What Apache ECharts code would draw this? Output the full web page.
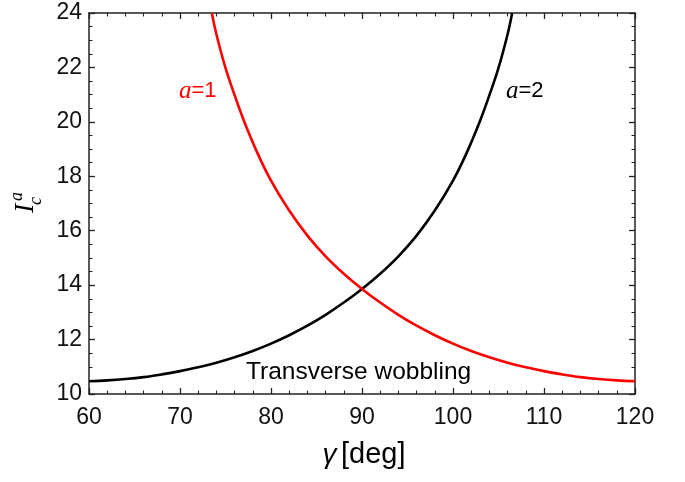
<!DOCTYPE html>
<html>
<head>
<meta charset="utf-8">
<script src="https://cdn.jsdelivr.net/npm/echarts@6/dist/echarts.min.js"></script>
<style>
  html, body { margin: 0; padding: 0; background: #fff; }
  #chart { width: 685px; height: 482px; }
</style>
</head>
<body>
<div id="chart"></div>
<script>
// gamma [deg] and critical moment of inertia
const gammaA2 = [60, 62, 64, 66, 68, 70, 72, 74, 76, 78, 80, 82, 84, 86, 88, 90, 92, 94, 96, 98, 100, 101.5, 103, 104, 105, 106, 106.5];
const inertiaA2 = [10.47, 10.50, 10.55, 10.62, 10.72, 10.84, 10.98, 11.15, 11.35, 11.58, 11.85, 12.16, 12.51, 12.91, 13.36, 13.86, 14.42, 15.06, 15.82, 16.74, 17.84, 18.86, 20.06, 20.98, 21.98, 23.22, 24.0];
const gammaA1 = [73.5, 74, 75, 76, 77, 78.5, 80, 82, 84, 86, 88, 90, 92, 94, 96, 98, 100, 102, 104, 106, 108, 110, 112, 114, 116, 118, 120];
const inertiaA1 = [24.0, 23.22, 21.98, 20.98, 20.06, 18.86, 17.84, 16.74, 15.82, 15.06, 14.42, 13.86, 13.36, 12.91, 12.51, 12.16, 11.85, 11.58, 11.35, 11.15, 10.98, 10.84, 10.72, 10.62, 10.55, 10.50, 10.47];
const xTicks = [60, 70, 80, 90, 100, 110, 120];
const yTicks = [10, 12, 14, 16, 18, 20, 22, 24];

const chart = echarts.init(document.getElementById('chart'));

const sans = 'Liberation Sans';
const serif = 'Liberation Serif';

const axisCommon = {
  axisLine: { show: true, onZero: false, lineStyle: { color: '#222', width: 1.5 } },
  axisTick: { show: true, inside: true, length: 6, lineStyle: { color: '#222', width: 1.3 } },
  splitLine: { show: false },
  minorSplitLine: { show: false }
};
const minorX = { show: true, splitNumber: 5, length: 3.5, lineStyle: { color: '#222', width: 1.1 } };
const minorY = { show: true, splitNumber: 4, length: 3.5, lineStyle: { color: '#222', width: 1.1 } };

function pairs(xs, ys) {
  return xs.map((x, i) => [x, ys[i]]);
}

const option = {
  animation: false,
  backgroundColor: '#fff',
  grid: { left: 89, right: 50, top: 13, bottom: 88 },
  xAxis: [
    Object.assign({
      type: 'value', min: xTicks[0], max: xTicks[xTicks.length - 1], interval: 10,
      position: 'bottom', minorTick: minorX,
      axisLabel: { fontFamily: sans, fontSize: 23, color: '#111', margin: 12 }
    }, axisCommon),
    Object.assign({
      type: 'value', min: xTicks[0], max: xTicks[xTicks.length - 1], interval: 10,
      position: 'top', minorTick: minorX,
      axisLabel: { show: false }
    }, axisCommon)
  ],
  yAxis: [
    Object.assign({
      type: 'value', min: yTicks[0], max: yTicks[yTicks.length - 1], interval: 2,
      position: 'left', minorTick: minorY,
      axisLabel: { fontFamily: sans, fontSize: 23, color: '#111', margin: 7 }
    }, axisCommon),
    Object.assign({
      type: 'value', min: yTicks[0], max: yTicks[yTicks.length - 1], interval: 2,
      position: 'right', minorTick: minorY,
      axisLabel: { show: false }
    }, axisCommon)
  ],
  series: [
    {
      name: 'a=2', type: 'line', smooth: 0.4, showSymbol: false,
      lineStyle: { color: '#000', width: 2.6 },
      data: pairs(gammaA2, inertiaA2)
    },
    {
      name: 'a=1', type: 'line', smooth: 0.4, showSymbol: false,
      lineStyle: { color: '#ff0000', width: 2.6 },
      data: pairs(gammaA1, inertiaA1)
    }
  ],
  graphic: [
    {
      type: 'text', x: 179, y: 91,
      style: {
        text: '{i|a}{n|=1}', verticalAlign: 'middle',
        rich: {
          i: { fontFamily: serif, fontStyle: 'italic', fontSize: 25, fill: '#ff0000' },
          n: { fontFamily: sans, fontSize: 22, fill: '#ff0000' }
        }
      }
    },
    {
      type: 'text', x: 506, y: 91,
      style: {
        text: '{i|a}{n|=2}', verticalAlign: 'middle',
        rich: {
          i: { fontFamily: serif, fontStyle: 'italic', fontSize: 25, fill: '#000' },
          n: { fontFamily: sans, fontSize: 22, fill: '#000' }
        }
      }
    },
    {
      type: 'text', x: 246, y: 372,
      style: { text: 'Transverse wobbling', fontFamily: sans, fontSize: 24.5, fill: '#000', verticalAlign: 'middle' }
    },
    {
      type: 'text', x: 364, y: 455,
      style: {
        text: '{i|γ}{s| }{n|[deg]}', align: 'center', verticalAlign: 'middle',
        rich: {
          i: { fontFamily: sans, fontStyle: 'italic', fontSize: 28, fill: '#000' },
          s: { fontFamily: sans, fontSize: 16 },
          n: { fontFamily: sans, fontSize: 29, fill: '#000' }
        }
      }
    },
    {
      type: 'group', x: 40, y: 213, rotation: Math.PI / 2,
      children: [
        { type: 'text', x: 0, y: 0, style: { text: 'I', fontFamily: serif, fontStyle: 'italic', fontSize: 28, fill: '#000', verticalAlign: 'bottom' } },
        { type: 'text', x: 12, y: -14, style: { text: 'a', fontFamily: serif, fontStyle: 'italic', fontSize: 18, fill: '#000', verticalAlign: 'bottom' } },
        { type: 'text', x: 8, y: 5, style: { text: 'c', fontFamily: serif, fontStyle: 'italic', fontSize: 18, fill: '#000', verticalAlign: 'bottom' } }
      ]
    }
  ]
};

chart.setOption(option);
</script>
</body>
</html>
